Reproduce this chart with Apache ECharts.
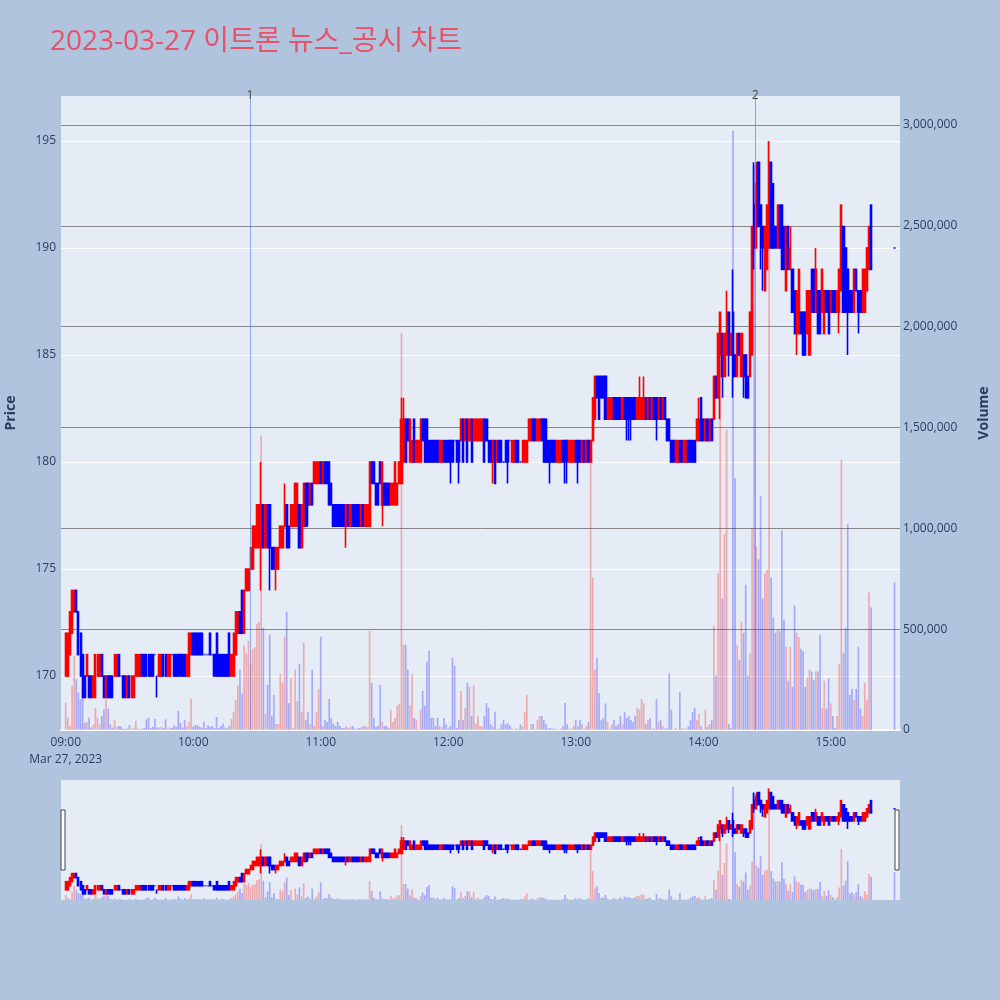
<!DOCTYPE html>
<html>
<head>
<meta charset="utf-8">
<script src="https://cdn.jsdelivr.net/npm/echarts@6/dist/echarts.min.js"></script>
<style>
html,body{margin:0;padding:0;background:#b0c4de;}
#c{width:1000px;height:1000px;}
</style>
</head>
<body>
<div id="c"></div>
<script>
// ---- DATA ----
// one row per minute from 09:00 (index = minutes after 09:00): [open, close, low, high]
const candles = [
// 09:00
[170,172,170,172],[170,172,170,172],[171,173,171,173],[172,174,172,174],[173,174,173,174],[174,173,173,174],[173,171,171,173],[172,170,170,172],[171,169,169,171],[170,169,169,170],
// 09:10
[170,171,170,171],[170,169,169,170],[170,169,169,170],[169,170,169,170],[169,171,169,171],[170,171,170,171],[170,171,170,171],[171,170,170,171],[170,169,169,170],[169,170,169,170],
// 09:20
[170,169,169,170],[170,169,169,170],[170,169,169,170],[170,171,170,171],[170,171,170,171],[171,170,170,171],[170,170,170,170],[170,169,169,170],[170,169,169,170],[169,170,169,170],
// 09:30
[170,169,169,170],[169,170,169,170],[169,170,169,170],[170,171,170,171],[170,171,170,171],[170,171,170,171],[171,170,170,171],[171,170,170,171],[171,170,170,171],[171,170,170,171],
// 09:40
[171,170,170,171],[171,170,170,171],[171,171,171,171],[170,170,169,170],[170,171,170,171],[170,171,170,171],[171,170,170,171],[171,170,170,171],[170,171,170,171],[170,171,170,171],
// 09:50
[171,171,171,171],[171,170,170,171],[171,170,170,171],[171,170,170,171],[171,170,170,171],[171,170,170,171],[171,170,170,171],[170,171,170,171],[170,172,170,172],[171,172,171,172],
// 10:00
[172,171,171,172],[172,171,171,172],[172,171,171,172],[172,171,171,172],[172,171,171,172],[171,171,171,171],[171,171,171,171],[171,171,171,171],[172,171,171,172],[171,171,171,171],
// 10:10
[171,170,170,171],[172,170,170,172],[171,170,170,171],[171,170,170,171],[171,170,170,171],[171,170,170,171],[171,170,170,171],[172,170,170,172],[170,171,170,171],[170,172,170,172],
// 10:20
[171,173,171,173],[172,173,172,173],[173,172,172,173],[174,172,172,174],[172,174,172,174],[174,175,174,175],[174,175,174,175],[175,176,175,176],[175,177,175,177],[176,177,176,177],
// 10:30
[176,178,176,178],[176,178,176,178],[176,178,174,180],[178,176,176,178],[176,178,176,178],[178,176,176,178],[178,176,174,178],[176,175,175,176],[176,175,175,176],[175,176,174,176],
// 10:40
[175,176,175,176],[176,177,176,177],[176,177,176,177],[177,178,177,179],[178,176,176,178],[177,176,176,177],[177,178,177,178],[177,178,177,178],[177,179,177,179],[177,179,177,179],
// 10:50
[178,176,176,178],[176,178,176,178],[177,179,177,179],[179,177,177,179],[179,178,177,179],[178,179,178,179],[179,178,178,179],[179,180,179,180],[179,180,179,180],[179,180,179,180],
// 11:00
[180,179,179,180],[179,180,179,180],[180,179,179,180],[180,179,179,180],[180,178,178,180],[179,178,178,179],[178,177,177,178],[178,177,177,178],[178,177,177,178],[178,177,177,178],
// 11:10
[178,177,177,178],[178,177,177,178],[177,178,176,178],[178,177,177,178],[177,178,177,178],[178,177,177,178],[178,177,177,178],[178,177,177,178],[178,177,177,178],[177,178,177,178],
// 11:20
[178,177,177,178],[177,178,177,178],[177,178,177,178],[177,180,177,180],[180,179,179,180],[180,179,179,180],[179,178,178,179],[179,178,178,179],[180,179,179,180],[178,180,177,180],
// 11:30
[179,178,178,179],[179,178,178,179],[179,178,178,179],[178,179,178,179],[178,179,178,179],[178,180,178,180],[178,179,178,179],[179,180,179,180],[179,182,179,183],[180,182,180,183],
// 11:40
[182,180,180,182],[182,181,181,182],[180,182,180,182],[180,181,180,181],[182,180,180,182],[180,181,180,181],[180,181,180,181],[180,182,180,182],[182,181,181,182],[182,180,180,182],
// 11:50
[182,180,180,182],[181,180,180,181],[181,180,180,181],[181,180,180,181],[181,180,180,181],[181,180,180,181],[180,181,180,181],[180,181,180,181],[181,180,180,181],[181,180,180,181],
// 12:00
[181,180,180,181],[181,180,179,181],[181,180,180,181],[181,181,181,181],[181,180,180,181],[181,180,179,181],[181,182,181,182],[182,180,180,182],[181,182,181,182],[182,180,180,182],
// 12:10
[181,182,181,182],[182,180,180,182],[181,182,181,182],[181,182,181,182],[181,182,181,182],[181,182,181,182],[181,182,181,182],[182,180,180,182],[182,181,181,182],[181,180,180,181],
// 12:20
[181,180,180,181],[180,181,179,181],[181,179,179,181],[180,181,180,181],[181,180,180,181],[181,180,180,181],[180,180,180,180],[181,180,180,181],[181,180,179,181],[181,181,181,181],
// 12:30
[180,181,180,181],[180,181,180,181],[181,180,180,181],[181,180,180,181],[180,180,180,180],[180,181,180,181],[180,181,180,181],[180,181,180,181],[181,182,181,182],[181,182,181,182],
// 12:40
[182,181,181,182],[182,181,181,182],[181,182,181,182],[181,182,181,182],[182,181,181,182],[182,180,180,182],[182,180,180,182],[181,180,180,181],[181,180,179,181],[181,180,180,181],
// 12:50
[181,180,180,181],[180,181,180,181],[180,181,180,181],[180,181,180,181],[181,180,180,181],[181,180,179,181],[181,180,179,181],[180,181,180,181],[180,181,180,181],[180,181,180,181],
// 13:00
[181,180,180,181],[181,180,179,181],[181,180,180,181],[180,181,180,181],[181,180,180,181],[180,181,180,181],[181,180,180,181],[180,181,180,181],[181,183,181,183],[182,184,182,184],
// 13:10
[184,183,183,184],[184,182,182,184],[184,183,183,184],[184,183,183,184],[184,182,182,184],[182,183,182,183],[182,183,182,183],[182,183,182,183],[183,182,182,183],[183,182,182,183],
// 13:20
[183,182,182,183],[183,182,182,183],[182,183,182,183],[183,182,182,183],[183,182,181,183],[183,182,181,183],[183,182,181,183],[183,182,182,183],[183,182,182,183],[182,183,182,183],
// 13:30
[182,183,182,184],[182,183,182,183],[182,183,182,184],[183,182,182,183],[182,183,182,183],[183,182,182,183],[182,183,182,183],[183,182,182,183],[183,182,181,183],[182,183,182,183],
// 13:40
[183,182,182,183],[182,183,182,183],[183,182,182,183],[182,181,181,182],[182,181,181,182],[181,180,180,181],[181,180,180,181],[180,181,180,181],[180,181,180,181],[181,180,180,181],
// 13:50
[181,180,180,181],[180,181,180,181],[180,181,180,181],[181,180,180,181],[181,180,180,181],[181,180,180,181],[181,180,180,181],[181,182,181,182],[181,182,181,183],[183,181,181,183],
// 14:00
[182,181,181,182],[181,182,181,182],[182,181,181,182],[181,182,181,182],[182,181,181,182],[182,184,182,184],[184,183,183,184],[183,186,183,186],[185,187,182,187],[186,184,183,186],
// 14:10
[184,186,184,186],[185,187,185,188],[187,185,184,187],[185,186,185,186],[187,184,183,189],[185,184,184,185],[184,186,184,186],[186,185,185,186],[184,186,184,186],[185,184,183,185],
// 14:20
[185,183,183,185],[184,183,183,184],[184,187,184,187],[185,191,185,191],[192,190,189,194],[190,193,190,194],[194,191,191,194],[192,190,189,192],[191,190,188,191],[188,191,188,191],
// 14:30
[189,192,189,192],[190,194,190,195],[194,190,190,194],[193,190,190,193],[191,190,190,191],[190,192,190,192],[192,190,190,192],[192,189,189,192],[191,189,189,191],[188,191,188,191],
// 14:40
[191,189,189,191],[189,190,189,191],[189,187,187,189],[188,186,186,188],[186,188,185,188],[186,189,186,189],[187,186,186,187],[187,185,185,187],[187,185,185,187],[186,188,186,188],
// 14:50
[185,188,185,188],[189,187,187,189],[189,187,187,189],[187,189,187,190],[188,186,186,188],[188,186,186,188],[187,189,187,189],[186,188,186,188],[188,187,187,188],[188,186,186,188],
// 15:00
[187,188,187,188],[188,187,187,188],[188,187,187,188],[187,188,187,188],[187,189,186,189],[188,192,188,192],[191,187,187,191],[190,187,187,190],[189,187,185,189],[188,187,187,188],
// 15:10
[188,187,187,188],[187,189,187,189],[189,188,188,189],[188,187,186,188],[188,187,187,188],[187,189,187,189],[187,189,187,189],[188,190,188,190],[189,191,189,191],[192,189,189,192]
];
// volume per minute, thousands of shares (same order as candles)
const volumeK = [
136,61,20,219,368,252,186,153,202,36,
40,61,12,28,111,61,28,70,103,153,
106,28,12,50,17,20,17,7,5,8,
25,6,12,45,8,5,7,10,53,61,
10,15,56,12,12,17,10,53,8,12,
10,23,15,95,36,12,50,18,40,156,
17,25,23,17,12,40,10,23,15,20,
10,65,10,20,32,12,8,20,56,90,
150,219,300,180,420,380,443,330,403,410,
527,537,1460,507,80,224,473,70,174,30,
30,279,234,463,587,134,259,10,299,144,
328,90,433,50,90,30,299,20,90,204,
463,20,50,40,154,60,30,20,40,20,
10,10,20,10,15,20,8,5,10,12,
20,20,15,492,234,60,15,20,224,40,
20,20,10,100,40,60,120,130,1970,423,
423,300,120,279,60,50,5,100,194,120,
338,393,60,60,20,60,20,15,60,28,
7,20,358,318,10,49,194,49,109,234,
214,70,224,30,70,18,18,70,134,110,
28,18,90,5,7,28,49,28,35,22,
7,3,7,5,28,18,90,174,3,28,
30,3,50,70,70,49,28,7,10,7,
7,5,3,7,18,134,28,7,7,20,
49,18,49,28,7,18,40,1410,756,300,
358,184,49,60,132,40,7,28,49,18,
28,70,28,90,60,70,49,40,70,110,
101,153,132,28,49,60,7,7,153,40,
49,20,7,7,280,101,3,10,3,187,
7,7,7,18,49,90,111,49,80,18,
3,101,15,28,49,517,270,776,2060,652,
970,1490,30,10,2970,1250,423,348,537,482,
721,270,380,1000,2800,910,846,1160,652,776,
796,2920,756,557,482,500,490,990,547,413,
244,413,214,617,482,460,403,390,214,260,
299,290,250,290,290,473,110,244,106,256,
132,70,10,70,328,1340,380,505,1020,174,
204,150,204,413,106,70,234,150,682,607
];
// closing auction at 15:30
const closeAuctionMinute = 390;
const closeAuction = [190,190,190,190];
const closeAuctionVolumeK = 731;

// news markers (minutes after 09:00)
const newsMinutes = [86.7, 324.4];
const newsLabels = ['1', '2'];

// tick labels
const hourTicks = [0, 60, 120, 180, 240, 300, 360];
const hourLabels = ['09:00', '10:00', '11:00', '12:00', '13:00', '14:00', '15:00'];
const dateLabel = 'Mar 27, 2023';
const priceTicks = [170, 175, 180, 185, 190, 195];
const volumeTicks = [0, 500000, 1000000, 1500000, 2000000, 2500000, 3000000];
const titleText = '2023-03-27 이트론 뉴스_공시 차트';

// ---- BUILD ----
const X_MIN = -2.21, X_MAX = 392.6;
const P_MIN = 167.48, P_MAX = 197.10;
const V_MAX = 3143800;
const UP = '#ff0000', DOWN = '#0000ff';
const UP_VOL = 'rgba(255,0,0,0.28)', DOWN_VOL = 'rgba(0,0,255,0.28)';
const FONT = '"Open Sans", "Noto Sans CJK KR", sans-serif';

const xs = candles.map((_, i) => i).concat([closeAuctionMinute]);
const allCandles = candles.concat([closeAuction]);
const allVol = volumeK.concat([closeAuctionVolumeK]).map(v => v * 1000);

function candleData() {
  return allCandles.map((c, i) => {
    const item = { value: [xs[i], c[0], c[1], c[2], c[3]] };
    if (c[0] === c[1]) item.itemStyle = { color: DOWN, color0: DOWN, borderColor: DOWN, borderColor0: DOWN };
    return item;
  });
}
function volData() {
  return allVol.map((v, i) => ({
    value: [xs[i], v],
    itemStyle: { color: allCandles[i][1] > allCandles[i][0] ? UP_VOL : DOWN_VOL }
  }));
}
const candleStyle = { color: UP, color0: DOWN, borderColor: UP, borderColor0: DOWN, borderColorDoji: DOWN, borderWidth: 1.6 };
const axisText = { color: '#2a3f5f', fontSize: 12, fontFamily: FONT };

const chart = echarts.init(document.getElementById('c'), null, { renderer: 'canvas', width: 1000, height: 1000 });
chart.setOption({
  animation: false,
  backgroundColor: '#b0c4de',
  title: {
    text: titleText, left: 45, top: 23,
    textStyle: { color: '#e9506a', fontSize: 28, fontWeight: 'normal', fontFamily: FONT }
  },
  grid: [
    { left: 61, right: 100, top: 96, bottom: 270, show: true, backgroundColor: '#e5ecf6', borderWidth: 0, containLabel: false, outerBoundsMode: 'none' },
    { left: 61, right: 100, top: 780, height: 120, show: true, backgroundColor: '#e5ecf6', borderWidth: 0, containLabel: false, outerBoundsMode: 'none' }
  ],
  xAxis: [
    {
      type: 'value', gridIndex: 0, min: X_MIN, max: X_MAX,
      axisLine: { show: true, onZero: false, lineStyle: { color: '#ffffff', width: 2 } },
      axisTick: { show: false }, splitLine: { show: false },
      axisLabel: Object.assign({}, axisText, {
        customValues: hourTicks, margin: 4, lineHeight: 17,
        formatter: v => {
          const k = hourTicks.indexOf(v);
          if (k < 0) return '';
          return hourLabels[k] + (k === 0 ? '\n' + dateLabel : '');
        }
      })
    },
    { type: 'value', gridIndex: 1, min: X_MIN, max: X_MAX, show: false }
  ],
  yAxis: [
    {
      type: 'value', gridIndex: 0, position: 'left', min: P_MIN, max: P_MAX, splitNumber: 6,
      axisLine: { show: false }, axisTick: { show: false },
      axisLabel: Object.assign({}, axisText, {
        margin: 5, showMinLabel: false, showMaxLabel: false,
        formatter: v => priceTicks.indexOf(v) >= 0 ? String(v) : ''
      }),
      splitLine: { show: true, showMinLine: false, showMaxLine: false, lineStyle: { color: '#ffffff', width: 1 } },
      name: 'Price', nameLocation: 'middle', nameGap: 43,
      nameTextStyle: { color: '#2a3f5f', fontSize: 14, fontWeight: 'bold', fontFamily: FONT }
    },
    {
      type: 'value', gridIndex: 0, position: 'right', min: 0, max: V_MAX, splitNumber: 6,
      axisLine: { show: false }, axisTick: { show: false },
      axisLabel: Object.assign({}, axisText, {
        margin: 3, showMaxLabel: false,
        formatter: v => volumeTicks.indexOf(v) >= 0 ? v.toLocaleString('en-US') : ''
      }),
      splitLine: { show: true, showMinLine: false, showMaxLine: false, lineStyle: { color: '#888888', width: 1 } },
      name: 'Volume', nameLocation: 'middle', nameGap: 77,
      nameTextStyle: { color: '#2a3f5f', fontSize: 14, fontWeight: 'bold', fontFamily: FONT }
    },
    { type: 'value', gridIndex: 1, min: P_MIN, max: P_MAX, show: false },
    { type: 'value', gridIndex: 1, min: 0, max: V_MAX, show: false }
  ],
  series: [
    {
      type: 'candlestick', name: 'price', xAxisIndex: 0, yAxisIndex: 0,
      data: candleData(), encode: { x: 0, y: [1, 2, 3, 4] },
      barWidth: 1.6, large: false, itemStyle: candleStyle, z: 2,
      markLine: {
        silent: true, symbol: ['none', 'none'], animation: false,
        lineStyle: { color: 'rgba(80,120,230,0.6)', width: 1, type: 'solid' },
        label: { show: true, position: 'end', color: '#444444', fontSize: 12, fontFamily: FONT, distance: -6, formatter: p => p.name },
        data: newsMinutes.map((m, i) => ({ name: newsLabels[i], xAxis: m }))
      }
    },
    {
      type: 'bar', name: 'volume', xAxisIndex: 0, yAxisIndex: 1,
      data: volData(), encode: { x: 0, y: 1 }, barWidth: 1.7, large: false, z: 3
    },
    {
      type: 'candlestick', name: 'price-range', xAxisIndex: 1, yAxisIndex: 2,
      data: candleData(), encode: { x: 0, y: [1, 2, 3, 4] },
      barWidth: 1.6, large: false, itemStyle: candleStyle, z: 2, silent: true
    },
    {
      type: 'bar', name: 'volume-range', xAxisIndex: 1, yAxisIndex: 3,
      data: volData(), encode: { x: 0, y: 1 }, barWidth: 1.7, large: false, z: 3, silent: true
    }
  ],
  graphic: [
    { type: 'rect', shape: { x: 61, y: 810, width: 4, height: 60 }, style: { fill: '#ffffff', stroke: '#444444', lineWidth: 1 }, z: 10 },
    { type: 'rect', shape: { x: 895, y: 810, width: 4, height: 60 }, style: { fill: '#ffffff', stroke: '#444444', lineWidth: 1 }, z: 10 }
  ]
});
</script>
</body>
</html>
